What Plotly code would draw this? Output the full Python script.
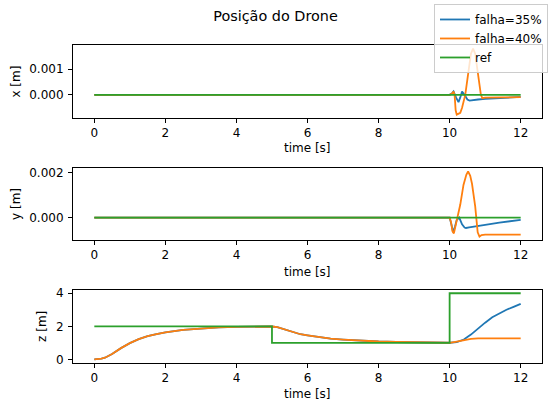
import plotly.graph_objects as go
from plotly.subplots import make_subplots

# ---------------- data ----------------
# z (altitude) – both failure cases identical until t=10
z_t_common = [0, 0.1, 0.2, 0.3, 0.4, 0.5, 0.75, 1.0, 1.25, 1.5, 1.75, 2.0, 2.5, 3.0, 3.5,
              4.0, 4.5, 5.0, 5.15, 5.33, 5.5, 5.8, 6.0, 6.3, 6.65, 7.0, 7.5, 8.0, 8.5, 9.0, 9.5, 10.0]
z_common = [0, 0.01, 0.04, 0.1, 0.2, 0.32, 0.68, 0.98, 1.22, 1.4, 1.53, 1.64, 1.79, 1.88, 1.93,
            1.96, 1.98, 1.99, 1.95, 1.84, 1.72, 1.52, 1.45, 1.34, 1.25, 1.2, 1.13, 1.08, 1.05,
            1.03, 1.015, 1.005]

z35_t_tail = [10.2, 10.4, 10.6, 10.8, 11.0, 11.2, 11.4, 11.6, 11.8, 12.0]
z35_tail = [1.04, 1.2, 1.5, 1.88, 2.22, 2.55, 2.8, 3.0, 3.18, 3.36]
z40_t_tail = [10.2, 10.4, 10.6, 10.8, 11.0, 11.5, 12.0]
z40_tail = [1.08, 1.17, 1.24, 1.27, 1.27, 1.27, 1.27]

zref_t = [0, 5, 10, 12]
zref = [2, 1, 4, 4]

# x position
x35_t = [0, 10.0, 10.06, 10.11, 10.18, 10.25, 10.3, 10.35, 10.42, 10.5, 10.56, 10.65, 10.8, 11.0, 11.5, 12.0]
x35 = [0, 0, 0.00005, 0.00013, -0.0001, -0.00028, -0.0001, 0.00013, 0.0, -0.00018, -0.00022,
       -0.0002, -0.00018, -0.00016, -0.00012, -0.00008]
x40_t = [0, 10.0, 10.07, 10.11, 10.14, 10.17, 10.2, 10.25, 10.3, 10.35, 10.4, 10.44, 10.5, 10.55,
         10.6, 10.66, 10.72, 10.78, 10.84, 10.88, 10.92, 11.0, 11.5, 12.0]
x40 = [0, 0, 0.00005, 0.00013, 0.0, -0.0006, -0.00077, -0.00075, -0.0007, -0.0005, -0.0002, 0.0,
       0.0006, 0.0012, 0.0016, 0.0018, 0.0016, 0.001, 0.0003, 0.0, -0.00013, -0.00011, -0.0001, -0.00009]
xref_t = [0, 12]
xref = [0, 0]

# y position
y35_t = [0, 10.0, 10.05, 10.1, 10.15, 10.2, 10.27, 10.35, 10.42, 10.46, 10.55, 10.7, 10.84, 11.0, 11.4, 12.0]
y35 = [0, 0, -0.0003, -0.00065, -0.0004, -0.0001, 0.0, -0.0003, -0.00044, -0.00046, -0.00043,
       -0.0004, -0.00036, -0.00032, -0.00022, -0.0001]
y40_t = [0, 10.0, 10.04, 10.08, 10.12, 10.16, 10.2, 10.23, 10.3, 10.39, 10.47, 10.52, 10.58, 10.63,
         10.68, 10.72, 10.75, 10.79, 10.84, 10.9, 11.0, 12.0]
y40 = [0, 0, -0.0002, -0.0006, -0.0007, -0.0004, -0.0001, 0.0, 0.00058, 0.00145, 0.0019, 0.00205,
       0.00185, 0.0015, 0.001, 0.0005, 0.0, -0.00065, -0.00084, -0.00077, -0.00075, -0.00075]
yref_t = [0, 12]
yref = [0, 0]

names = ["falha=35%", "falha=40%", "ref"]
colors = ["#1f77b4", "#ff7f0e", "#2ca02c"]
x_ticks = [0, 2, 4, 6, 8, 10, 12]
x_tick_labels = ["0", "2", "4", "6", "8", "10", "12"]
yticks_x = [0.0, 0.001]
yticks_y = [0.0, 0.002]
yticks_z = [0, 2, 4]
ytitles = ["x [m]", "y [m]", "z [m]"]
xtitle = "time [s]"
title = "Posição do Drone"

# ---------------- figure ----------------
W, H = 551, 405
fig = make_subplots(rows=3, cols=1)

z35_t = z_t_common + z35_t_tail
z35 = z_common + z35_tail
z40_t = z_t_common + z40_t_tail
z40 = z_common + z40_tail

rows = [
    (1, [(x35_t, x35), (x40_t, x40), (xref_t, xref)], "linear"),
    (2, [(y35_t, y35), (y40_t, y40), (yref_t, yref)], "linear"),
    (3, [(z35_t, z35), (z40_t, z40), (zref_t, zref)], "hv"),
]

def mpl_range(vals):
    lo, hi = min(vals), max(vals)
    span = hi - lo
    return [lo - 0.05 * span, hi + 0.05 * span]

yranges = []
for r, series, refshape in rows:
    allv = []
    for i, (tt, vv) in enumerate(series):
        allv += vv
        fig.add_trace(go.Scatter(
            x=tt, y=vv, mode="lines", name=names[i],
            line=dict(color=colors[i], width=1.8,
                      shape=(refshape if i == 2 else "linear")),
            showlegend=(r == 1), legendgroup=names[i]),
            row=r, col=1)
    yranges.append(mpl_range(allv))

FONT = "DejaVu Sans, Verdana, sans-serif"
xd = [73 / W, 542 / W]
ydoms = [[(H - 117) / H, (H - 43) / H],
         [(H - 241) / H, (H - 168) / H],
         [(H - 366) / H, (H - 292) / H]]
xtitle_y = [147.5, 274, 397.5]

axis_common = dict(showline=True, linecolor="black", linewidth=1, mirror=True,
                   ticks="outside", ticklen=4, tickwidth=1, tickcolor="black",
                   showgrid=False, zeroline=False,
                   tickfont=dict(family=FONT, size=12, color="black"))

ytv = [yticks_x, yticks_y, yticks_z]
ytt = [[f"{v:.3f}" for v in yticks_x], [f"{v:.3f}" for v in yticks_y], [str(v) for v in yticks_z]]

annotations = []
for i in range(3):
    xa = "xaxis" if i == 0 else f"xaxis{i+1}"
    ya = "yaxis" if i == 0 else f"yaxis{i+1}"
    fig.layout[xa].update(domain=xd, range=[-0.6, 12.6], tickvals=x_ticks, ticktext=x_tick_labels,
                          **axis_common)
    fig.layout[ya].update(domain=ydoms[i], range=yranges[i], tickvals=ytv[i], ticktext=ytt[i],
                          ticklabelstandoff=2,
                          title=dict(text=ytitles[i], font=dict(family=FONT, size=12, color="black"),
                                     standoff=6),
                          **axis_common)
    annotations.append(dict(text=xtitle, xref="paper", yref="paper",
                            x=(xd[0] + xd[1]) / 2, y=1 - xtitle_y[i] / H,
                            xanchor="center", yanchor="middle", showarrow=False,
                            borderpad=0,
                            font=dict(family=FONT, size=12, color="black")))

fig.update_layout(
    width=W, height=H,
    margin=dict(l=0, r=0, t=0, b=0),
    paper_bgcolor="white", plot_bgcolor="white",
    font=dict(family=FONT, size=12, color="black"),
    title=dict(text=title, x=0.5, xanchor="center", y=1 - 16 / H, yanchor="middle",
               font=dict(family=FONT, size=14.4, color="black")),
    legend=dict(x=548 / W, y=1 - 1 / H, xanchor="right", yanchor="top",
                bgcolor="rgba(255,255,255,0.8)", bordercolor="#cccccc", borderwidth=1,
                font=dict(family=FONT, size=12, color="black"),
                tracegroupgap=0, itemwidth=30),
    annotations=annotations,
)

fig.write_html("out.html")
